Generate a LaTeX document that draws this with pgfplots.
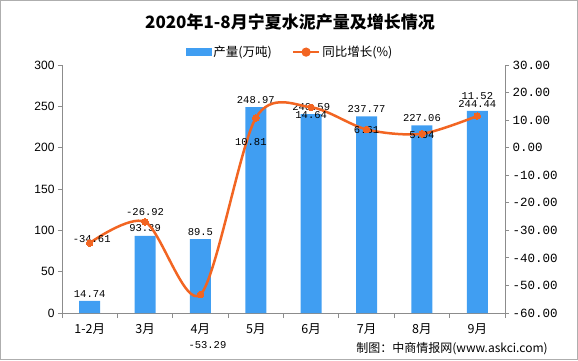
\documentclass[border=0pt]{standalone}
\usepackage{pgfplots}
\pgfplotsset{compat=1.18}
\usepackage{fontspec}
\setmainfont{Liberation Sans}
\newfontfamily\cjk{Noto Sans CJK SC}
\newfontfamily\mono{Liberation Mono}
\definecolor{barblue}{RGB}{64,158,242}
\definecolor{lineorange}{RGB}{242,101,34}
\definecolor{axgray}{RGB}{140,140,140}
\begin{document}
\begin{tikzpicture}[x=1pt,y=1pt]
\useasboundingbox (0,0) rectangle (578,360);
\draw[axgray!70, line width=1pt] (0.5,0.5) rectangle (577.5,359.5);
\node[font=\cjk\bfseries\fontsize{17}{17}\selectfont] at (290,338) {2020年1-8月宁夏水泥产量及增长情况};
\node[font=\cjk\fontsize{12}{12}\selectfont] at (452,11) {制图：中商情报网(www.askci.com)};

\begin{axis}[
  at={(62pt,47pt)}, anchor=south west, width=443pt, height=248pt, scale only axis,
  xmin=-0.5, xmax=7.5, ymin=0, ymax=300, ytick={0,50,...,300},
  axis x line*=bottom, axis y line*=left,
  axis line style={-, axgray, line width=0.8pt},
  ybar, bar width=21pt,
  xtick={0,...,7},
  xticklabels={1-2月,3月,4月,5月,6月,7月,8月,9月},
  xticklabel style={font=\cjk\fontsize{12.5}{12.5}\selectfont, yshift=-3pt},
  major x tick style={draw=none},
  minor xtick={-0.5,0.5,...,7.5},
  minor x tick style={axgray, line width=0.8pt},
  minor tick length=5pt,
  tick align=outside, major tick length=4pt,
  ytick style={axgray, line width=0.8pt},
  yticklabel style={font=\fontsize{12}{12}\selectfont, /pgf/number format/assume math mode=true},
  point meta=explicit symbolic,
  nodes near coords,
  nodes near coords style={font=\mono\fontsize{10.5}{10.5}\selectfont, black, inner sep=3.5pt},
  clip=false,
]
\addplot[fill=barblue, draw=none] coordinates {
  (0,14.74) [14.74]
  (1,93.39) [93.39]
  (2,89.5) [89.5]
  (3,248.97) [248.97]
  (4,240.59) [240.59]
  (5,237.77) [237.77]
  (6,227.06) [227.06]
  (7,244.44) [244.44]
};
\end{axis}

\begin{axis}[
  at={(62pt,47pt)}, anchor=south west, width=443pt, height=248pt, scale only axis,
  xmin=-0.5, xmax=7.5, ymin=-60, ymax=30, ytick={-60,-50,...,30},
  axis x line=none, axis y line*=right,
  axis line style={-, axgray, line width=0.8pt},
  tick align=outside, major tick length=4pt,
  ytick style={axgray, line width=0.8pt},
  yticklabel style={font=\mono\fontsize{12.5}{12.5}\selectfont,
    /pgf/number format/fixed, /pgf/number format/fixed zerofill,
    /pgf/number format/precision=2, /pgf/number format/assume math mode=true},
  clip=false,
  legend style={at={(0.515,1.052)}, anchor=center, legend columns=2, draw=none, fill=none,
    font=\cjk\fontsize{12.5}{12.5}\selectfont, /tikz/every even column/.append style={column sep=18pt}},
]
\addlegendimage{legend image code/.code={\fill[barblue] (0pt,-3.5pt) rectangle (25pt,3.5pt);}}
\addlegendentry{产量(万吨)}
\addplot[lineorange, line width=2.5pt, smooth, mark=*, mark size=3.3pt,
  mark options={fill=lineorange, draw=lineorange, line width=0pt},
  legend image code/.code={\draw[lineorange, line width=2.5pt] (0pt,0pt) -- (26pt,0pt);
    \fill[lineorange] (13pt,0pt) circle (3.3pt);}]
  coordinates {
  (0,-34.61) (1,-26.92) (2,-53.29) (3,10.81) (4,14.64) (5,6.61) (6,5.04) (7,11.52)
};
\addlegendentry{同比增长(\%)}
\begin{scope}[every node/.style={font=\mono\fontsize{10.5}{10.5}\selectfont, black}]
\node[xshift=2pt, yshift=4pt] at (axis cs:0,-34.61) {-34.61};
\node[yshift=10pt] at (axis cs:1,-26.92) {-26.92};
\node[xshift=7pt, yshift=-51pt] at (axis cs:2,-53.29) {-53.29};
\node[xshift=-5pt, yshift=-24pt] at (axis cs:3,10.81) {10.81};
\node[yshift=-8pt] at (axis cs:4,14.64) {14.64};
\node[yshift=-1pt] at (axis cs:5,6.61) {6.61};
\node[yshift=-1pt] at (axis cs:6,5.04) {5.04};
\node[yshift=20pt] at (axis cs:7,11.52) {11.52};
\end{scope}
\end{axis}
\end{tikzpicture}
\end{document}
